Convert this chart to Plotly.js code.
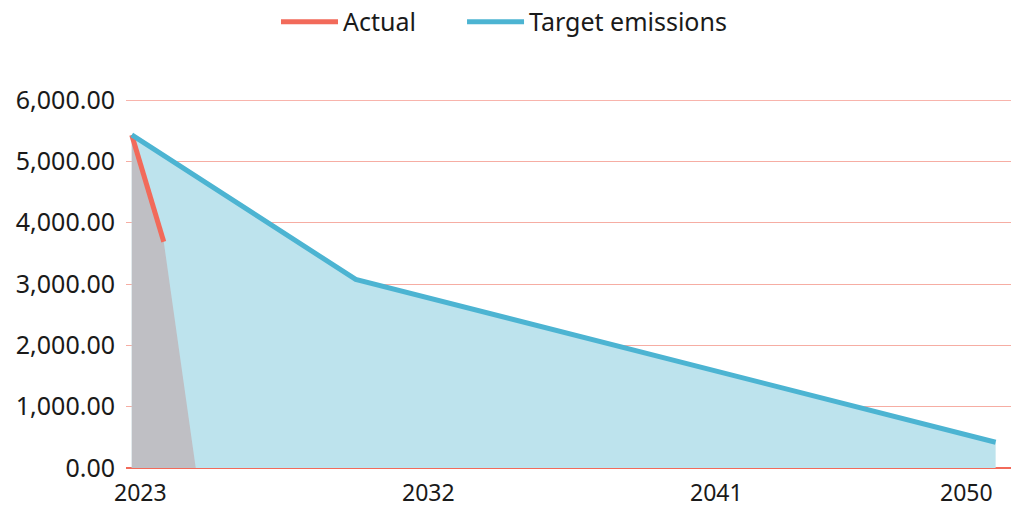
<!DOCTYPE html>
<html>
<head>
<meta charset="utf-8">
<script src="https://cdn.plot.ly/plotly-3.0.1.min.js"></script>
<style>html,body{margin:0;padding:0;background:#fff;} #chart{width:1019px;height:508px;}</style>
</head>
<body>
<div id="chart"></div>
<script>
// Data
const actualYears = [2023, 2024];
const actualValues = [5430, 3690];
const actualAreaYears = [2023, 2024, 2025];
const actualAreaValues = [5430, 3690, 0];
const targetYears = [2023, 2030, 2050];
const targetValues = [5430, 3075, 420];
const xTickVals = [2023, 2032, 2041, 2050];
const xTickText = ["2023", "2032", "2041", "2050"];
const yTickVals = [0, 1000, 2000, 3000, 4000, 5000, 6000];

const RED = '#F26A5A';
const BLUE = '#4CB4D2';
const FONT = 'Noto Sans, Open Sans, sans-serif';

const traces = [
  {
    x: targetYears, y: targetValues, type: 'scatter', mode: 'none',
    fill: 'tozeroy', fillcolor: '#BDE3ED', showlegend: false, hoverinfo: 'skip'
  },
  {
    x: actualAreaYears, y: actualAreaValues, type: 'scatter', mode: 'none',
    fill: 'tozeroy', fillcolor: '#BFBFC4', showlegend: false, hoverinfo: 'skip'
  },
  {
    x: actualYears, y: actualValues, type: 'scatter', mode: 'lines', name: 'Actual',
    line: {color: RED, width: 5}, legend: 'legend'
  },
  {
    x: targetYears, y: targetValues, type: 'scatter', mode: 'lines', name: 'Target emissions',
    line: {color: BLUE, width: 5}, legend: 'legend2'
  }
];

// x tick labels as annotations on the x scale (last one kept inside the figure)
const xLabelAnnotations = xTickVals.map((v, i) => {
  const last = i === xTickVals.length - 1;
  return {
    x: v, xref: 'x', y: 0, yref: 'paper', yanchor: 'top',
    xanchor: last ? 'right' : 'center', xshift: last ? -2 : 9, yshift: -7,
    borderpad: 0,
    text: xTickText[i], showarrow: false,
    font: {family: FONT, size: 23, color: '#1a1a1a'}
  };
});

const legendCommon = {
  orientation: 'h', xanchor: 'left', yanchor: 'middle', y: 1.212,
  font: {family: FONT, size: 25, color: '#1a1a1a'}, itemwidth: 57,
  bgcolor: 'rgba(0,0,0,0)'
};

const layout = {
  width: 1019, height: 508,
  margin: {l: 126, r: 8, t: 100, b: 40, autoexpand: false},
  paper_bgcolor: '#fff', plot_bgcolor: 'rgba(0,0,0,0)',
  font: {family: FONT, size: 24, color: '#1a1a1a'},
  showlegend: true,
  legend: Object.assign({}, legendCommon, {x: 0.1695}),
  legend2: Object.assign({}, legendCommon, {x: 0.3797}),
  xaxis: {
    range: [2022.82, 2050.48], tickvals: xTickVals,
    showticklabels: false,
    showgrid: false, zeroline: false, showline: false, ticks: '',
    fixedrange: true
  },
  yaxis: {
    range: [0, 6000], tickvals: yTickVals,
    tickformat: ',.2f', tickfont: {family: FONT, size: 25, color: '#1a1a1a'},
    showgrid: true, gridcolor: '#F6ADA3', gridwidth: 1,
    zeroline: true, zerolinecolor: RED, zerolinewidth: 2,
    ticks: '', ticklabelstandoff: 10, fixedrange: true
  },
  annotations: xLabelAnnotations,
  shapes: [
    {type: 'line', xref: 'paper', yref: 'y', x0: 0, x1: 1, y0: 6000, y1: 6000,
     line: {color: RED, width: 1}, layer: 'below'}
  ]
};

Plotly.newPlot('chart', traces, layout, {displayModeBar: false, staticPlot: true});
</script>
</body>
</html>
